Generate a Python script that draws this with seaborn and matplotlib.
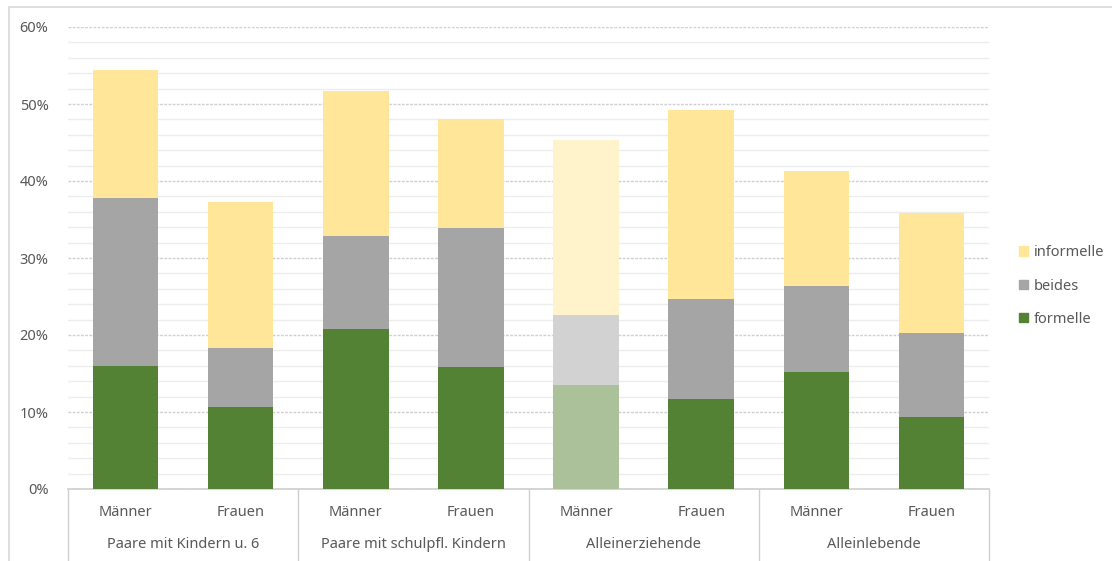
import matplotlib
matplotlib.use("Agg")
import matplotlib.pyplot as plt
import matplotlib.transforms as mtransforms
from matplotlib.colors import to_rgb
from matplotlib.lines import Line2D
from matplotlib.patches import Patch
import numpy as np
import pandas as pd
import seaborn as sns

# Daten (Anteile in %)
gruppen = ["Paare mit Kindern u. 6", "Paare mit schulpfl. Kindern",
           "Alleinerziehende", "Alleinlebende"]
geschlecht = ["Männer", "Frauen"]
formelle = [16.0, 10.6, 20.8, 15.9, 13.5, 11.7, 15.2, 9.3]
beides = [21.8, 7.7, 12.1, 18.0, 9.1, 13.0, 11.2, 11.0]
informelle = [16.6, 19.0, 18.8, 14.2, 22.7, 24.5, 14.9, 15.5]
blass = [4]  # Alleinerziehende Männer: geringe Fallzahl, blass dargestellt

FARBEN = {"formelle": "#548235", "beides": "#A5A5A5", "informelle": "#FFE699"}
GRAU_TEXT = "#595959"
FS = 10.5


def aufhellen(farbe, anteil=0.5):
    """Mischt die Farbe mit Weiß (statt Transparenz, damit Stapel nicht durchscheinen)."""
    r, g, b = to_rgb(farbe)
    return (r + (1 - r) * anteil, g + (1 - g) * anteil, b + (1 - b) * anteil)


sns.set_theme(style="white")
plt.rcParams["font.family"] = ["Noto Sans", "DejaVu Sans"]

schluessel = [f"{g}|{s}" for g in gruppen for s in geschlecht]
df = pd.DataFrame({
    "kat": schluessel,
    "formelle": formelle,
    "beides": beides,
    "informelle": informelle,
})
df["stufe1"] = df["formelle"]
df["stufe2"] = df["formelle"] + df["beides"]
df["stufe3"] = df["stufe2"] + df["informelle"]

fig = plt.figure(figsize=(11.12, 5.61), dpi=100)
ax = fig.add_axes([68 / 1112, 1 - 489 / 561, (989 - 68) / 1112, (489 - 27) / 561])

# gestapelt: von oben nach unten zeichnen
ebenen = [("stufe3", FARBEN["informelle"]),
          ("stufe2", FARBEN["beides"]),
          ("stufe1", FARBEN["formelle"])]
for spalte, farbe in ebenen:
    sns.barplot(data=df, x="kat", y=spalte, order=schluessel, color=farbe,
                saturation=1, width=0.57, ax=ax, zorder=3)

n = len(schluessel)
for i, p in enumerate(ax.patches):
    p.set_edgecolor("none")
    if i % n in blass:
        p.set_facecolor(aufhellen(ebenen[i // n][1]))

ax.set_xlim(-0.5, n - 0.5)
ax.set_ylim(0, 60)
ax.set_yticks(np.arange(0, 61, 10))
ax.set_yticklabels([f"{v}%" for v in range(0, 61, 10)], color=GRAU_TEXT, fontsize=FS)
ax.set_yticks(np.arange(0, 61, 2), minor=True)
ax.tick_params(axis="y", which="both", length=0, pad=14)
ax.grid(axis="y", which="minor", color="#EDEDED", linewidth=1, zorder=0)
ax.grid(axis="y", which="major", color="#D0D0D0", linewidth=1, linestyle=(0, (2, 1)), zorder=0)
ax.set_xticks([])
ax.set_xlabel("")
ax.set_ylabel("")
for s in ["top", "right", "left"]:
    ax.spines[s].set_visible(False)
ax.spines["bottom"].set_color("#D0D0D0")

# zweistufige Kategorienachse
trans = mtransforms.blended_transform_factory(ax.transData, fig.transFigure)
for i, k in enumerate(schluessel):
    ax.text(i, 1 - 512 / 561, k.split("|")[1], transform=trans, ha="center",
            va="center", fontsize=FS, color=GRAU_TEXT)
for j, g in enumerate(gruppen):
    ax.text(2 * j + 0.5, 1 - 545 / 561, g, transform=trans, ha="center",
            va="center", fontsize=FS, color=GRAU_TEXT)
for x in np.arange(-0.5, n, 2):
    ax.add_line(Line2D([x, x], [1 - 489 / 561, 0], transform=trans,
                       color="#D0D0D0", linewidth=1, clip_on=False))

# Diagrammrahmen
fig.add_artist(Line2D([9 / 1112, 1], [1 - 7 / 561] * 2, color="#D9D9D9", linewidth=1.2))
fig.add_artist(Line2D([9 / 1112] * 2, [0, 1 - 7 / 561], color="#D9D9D9", linewidth=1.2))

handles = [Patch(color=FARBEN[k], label=k) for k in ["informelle", "beides", "formelle"]]
fig.legend(handles=handles, loc="center left", bbox_to_anchor=(1006 / 1112, 1 - 286 / 561),
           frameon=False, fontsize=FS, handlelength=0.6, handleheight=0.6,
           handletextpad=0.4, labelspacing=1.25, labelcolor=GRAU_TEXT)

fig.savefig("out.png", dpi=100)
